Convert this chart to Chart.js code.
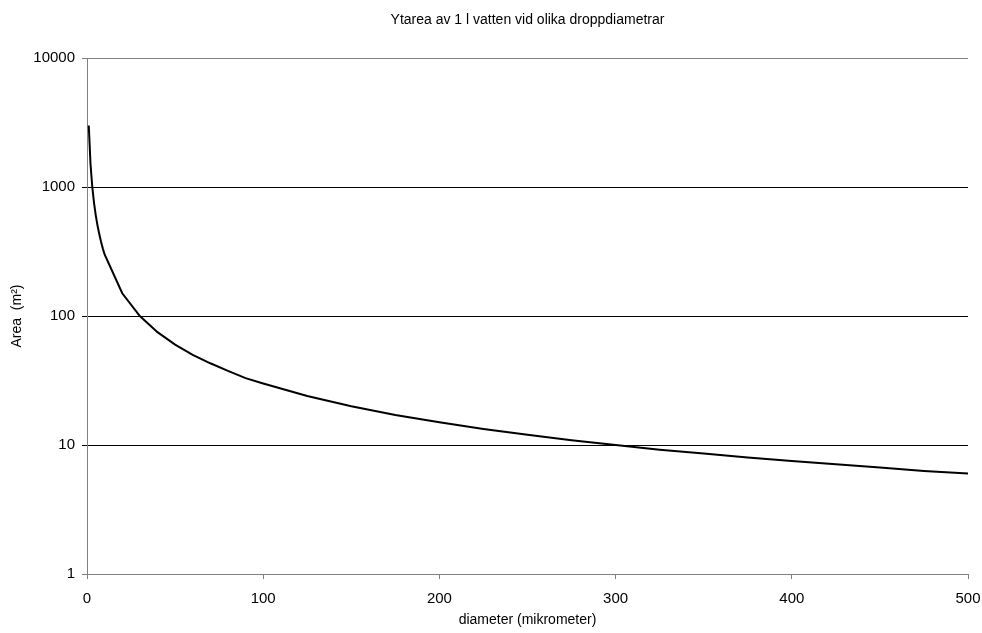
<!DOCTYPE html>
<html>
<head>
<meta charset="utf-8">
<script src="https://cdn.jsdelivr.net/npm/chart.js@4.4.0/dist/chart.umd.min.js"></script>
<style>
  body { margin: 0; background: #ffffff; }
  canvas { display: block; }
</style>
</head>
<body>
<canvas id="chart" width="982" height="633"></canvas>
<script>
// droplet diameter (micrometer) and surface area of 1 l water (m2)
const diameters = [1, 2, 3, 4, 5, 6, 7, 8, 9, 10, 20, 30, 40, 50, 60, 70, 80, 90, 100,
  125, 150, 175, 200, 225, 250, 275, 300, 325, 350, 375, 400, 425, 450, 475, 500];
const areas = [3000, 1500, 1000, 750, 600, 500, 430, 375, 333, 300, 150, 100, 75, 60, 50, 43, 37.5, 33, 30,
  24, 20, 17.1, 15, 13.3, 12, 10.9, 10, 9.2, 8.6, 8, 7.5, 7.1, 6.7, 6.3, 6];
const yTicks = [1, 10, 100, 1000, 10000];
const titleText = "Ytarea av 1 l vatten vid olika droppdiametrar";

const FONT = "'Liberation Sans', Arial, sans-serif";
const GRAY = "#808080";

// title centered over the plot area, like the original
const titlePlugin = {
  id: "plotTitle",
  afterDraw(chart) {
    const ctx = chart.ctx;
    const area = chart.chartArea;
    ctx.save();
    ctx.font = "14px " + FONT;
    ctx.fillStyle = "#000000";
    ctx.textAlign = "center";
    ctx.textBaseline = "middle";
    ctx.fillText(titleText, (area.left + area.right) / 2, 20);
    ctx.restore();
  }
};

const points = diameters.map((d, i) => ({x: d, y: areas[i]}));

new Chart(document.getElementById("chart").getContext("2d"), {
  type: "line",
  data: {
    datasets: [{
      data: points,
      borderColor: "#000000",
      borderWidth: 2,
      pointRadius: 0,
      fill: false,
      tension: 0
    }]
  },
  options: {
    responsive: false,
    animation: false,
    layout: {
      padding: {top: 58, right: 14, left: 0, bottom: 0}
    },
    plugins: {
      legend: {display: false},
      tooltip: {enabled: false}
    },
    scales: {
      x: {
        type: "linear",
        min: 0,
        max: 500,
        afterFit: (scale) => {
          scale.height = 59;
          scale.paddingLeft = 0;
          scale.paddingRight = 0;
        },
        ticks: {
          stepSize: 100,
          padding: 11,
          color: "#000000",
          font: {family: FONT, size: 15}
        },
        grid: {
          drawOnChartArea: false,
          color: GRAY,
          tickLength: 5
        },
        border: {color: GRAY, width: 1},
        title: {
          display: true,
          text: "diameter (mikrometer)",
          color: "#000000",
          font: {family: FONT, size: 14},
          padding: {top: 0, bottom: 4}
        }
      },
      y: {
        type: "logarithmic",
        min: 1,
        max: 10000,
        afterFit: (scale) => { scale.width = 87; },
        afterBuildTicks: (scale) => {
          scale.ticks = yTicks.map(v => ({value: v}));
        },
        ticks: {
          padding: 7,
          color: "#000000",
          font: {family: FONT, size: 15},
          callback: (v) => String(v)
        },
        grid: {
          color: (c) => (c.tick && (c.tick.value === 1 || c.tick.value === 10000)) ? GRAY : "#000000",
          tickLength: 5
        },
        border: {color: GRAY, width: 1},
        title: {
          display: true,
          text: "Area  (m²)",
          color: "#000000",
          font: {family: FONT, size: 14},
          padding: {top: 9, bottom: 0}
        }
      }
    }
  },
  plugins: [titlePlugin]
});
</script>
</body>
</html>
